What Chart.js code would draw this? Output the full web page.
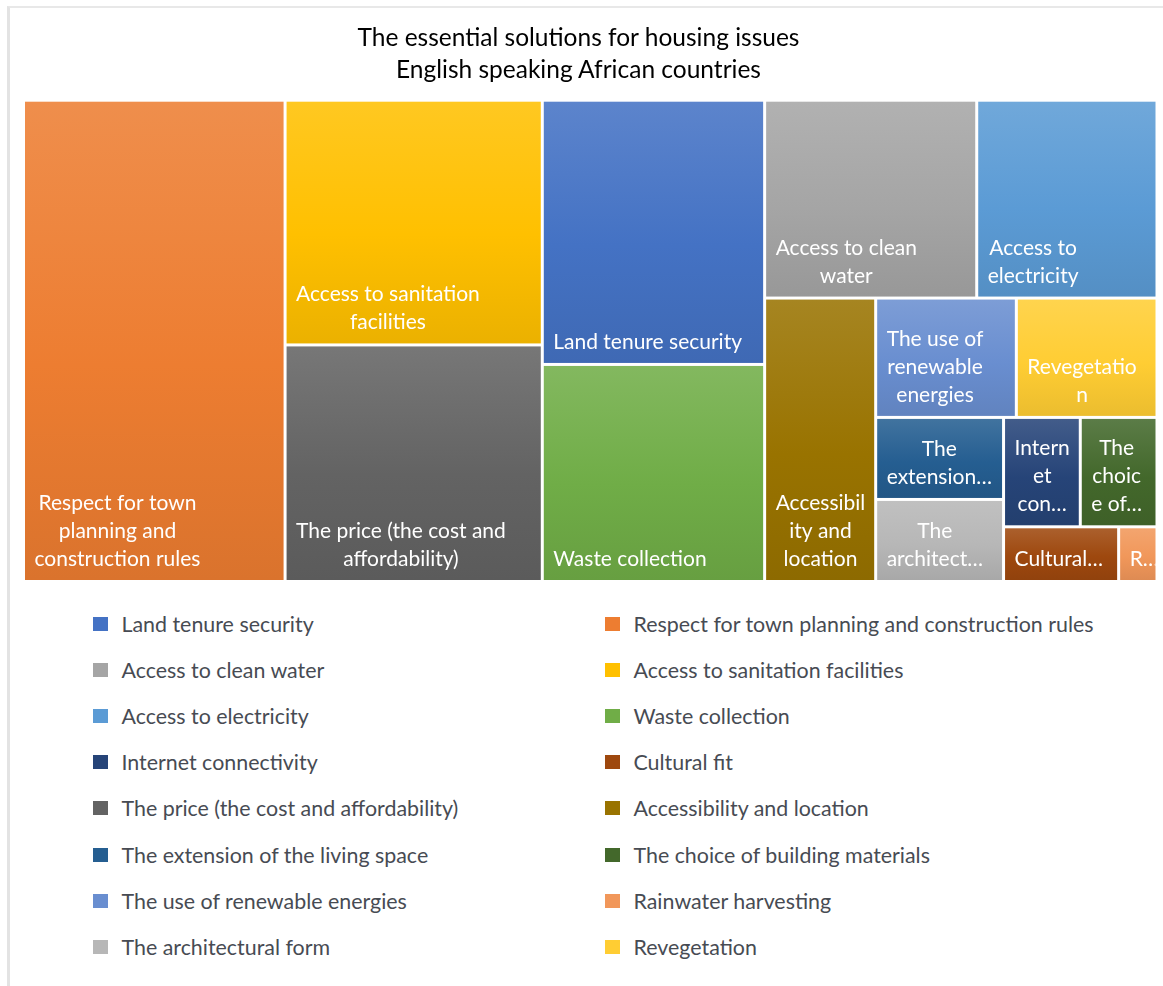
<!DOCTYPE html>
<html>
<head>
<meta charset="utf-8">
<title>The essential solutions for housing issues</title>
<script src="https://cdn.jsdelivr.net/npm/chart.js@4.4.1/dist/chart.umd.min.js"></script>
<style>
  html, body { margin: 0; padding: 0; background: #ffffff; }
  #wrap { position: relative; width: 1163px; height: 986px; overflow: hidden; font-family: Lato, "Open Sans", sans-serif; }
  #frame { position: absolute; left: 7px; top: 6px; width: 1300px; height: 1100px;
           border-left: 3px solid #e3e3e3; border-top: 2px solid #e8e8e8; }
  #title { position: absolute; left: 0; top: 20.6px; width: 1157px; text-align: center;
           font-size: 24.5px; line-height: 32.6px; color: #000000; }
  #chart { position: absolute; left: 0; top: 0; }
  .lg { position: absolute; height: 24px; display: flex; align-items: center; white-space: nowrap;
        font-size: 21.4px; color: #474b53; }
  .lg i { display: inline-block; width: 15px; height: 14px; margin-right: 13.5px; }
</style>
</head>
<body>
<div id="wrap">
  <div id="frame"></div>
  <canvas id="chart" width="1163" height="600"></canvas>
  <div id="title"></div>
  <div id="legend"></div>
</div>
<script>
// Survey answers: number of mentions for each solution
const labels = [
  'Land tenure security',
  'Respect for town planning and construction rules',
  'Access to clean water',
  'Access to sanitation facilities',
  'Access to electricity',
  'Waste collection',
  'Internet connectivity',
  'Cultural fit',
  'The price (the cost and affordability)',
  'Accessibility and location',
  'The extension of the living space',
  'The choice of building materials',
  'The use of renewable energies',
  'Rainwater harvesting',
  'The architectural form',
  'Revegetation'
];
const values = [28, 60, 20, 30, 17, 23, 4, 3, 29, 15, 5, 4, 8, 1, 5, 8];
const colors = [
  '#4472C4', '#ED7D31', '#A5A5A5', '#FFC000', '#5B9BD5', '#70AD47', '#264478', '#9E480E',
  '#636363', '#997300', '#255E91', '#43682B', '#698ED0', '#F1975A', '#B7B7B7', '#FFCD33'
];
const titleLines = ['The essential solutions for housing issues', 'English speaking African countries'];

function mix(hex, target, t) {
  const a = parseInt(hex.slice(1), 16), b = parseInt(target.slice(1), 16);
  const ch = (v, s) => (v >> s) & 255;
  const m = s => Math.round(ch(a, s) + (ch(b, s) - ch(a, s)) * t);
  return `rgb(${m(16)},${m(8)},${m(0)})`;
}

// Squarified layout; runs of equal values are always kept in the same strip.
function squarify(vals, W, H) {
  const total = vals.reduce((s, v) => s + v, 0);
  const items = vals.map((v, i) => ({ i, v, area: v / total * W * H }))
    .sort((p, q) => q.v - p.v || p.i - q.i);
  const worst = (row, side) => {
    const sum = row.reduce((s, it) => s + it.area, 0);
    const thick = sum / side;
    let w = 0;
    for (const it of row) {
      const len = it.area / thick;
      w = Math.max(w, len / thick, thick / len);
    }
    return w;
  };
  const group = (list, k) => {
    const g = [list[k]];
    while (k + g.length < list.length && list[k + g.length].v === list[k].v) g.push(list[k + g.length]);
    return g;
  };
  const out = [];
  let r = { x: 0, y: 0, w: W, h: H };
  let rest = items;
  while (rest.length) {
    const column = r.w >= r.h;
    const side = column ? r.h : r.w;
    let row = group(rest, 0);
    let best = worst(row, side);
    while (row.length < rest.length) {
      const cand = row.concat(group(rest, row.length));
      const wv = worst(cand, side);
      if (wv > best) break;
      row = cand; best = wv;
    }
    const thick = row.reduce((s, it) => s + it.area, 0) / side;
    let off = 0;
    for (const it of row) {
      const len = it.area / thick;
      out[it.i] = column ? { x: r.x, y: r.y + off, w: thick, h: len }
                         : { x: r.x + off, y: r.y, w: len, h: thick };
      off += len;
    }
    r = column ? { x: r.x + thick, y: r.y, w: r.w - thick, h: r.h }
               : { x: r.x, y: r.y + thick, w: r.w, h: r.h - thick };
    rest = rest.slice(row.length);
  }
  return out;
}

function wrapText(ctx, text, maxW) {
  const lines = [];
  let cur = '';
  for (const word of text.split(' ')) {
    const trial = cur ? cur + ' ' + word : word;
    if (ctx.measureText(trial).width <= maxW) { cur = trial; continue; }
    if (cur) lines.push(cur);
    let w = word;
    while (w.length > 1 && ctx.measureText(w).width > maxW) {
      let n = w.length - 1;
      while (n > 1 && ctx.measureText(w.slice(0, n)).width > maxW) n--;
      lines.push(w.slice(0, n));
      w = w.slice(n);
    }
    cur = w;
  }
  if (cur) lines.push(cur);
  return lines;
}

class TileElement extends Chart.Element {
  inRange(mx, my) { return mx >= this.x && mx <= this.x + this.width && my >= this.y && my <= this.y + this.height; }
  inXRange(mx) { return mx >= this.x && mx <= this.x + this.width; }
  inYRange(my) { return my >= this.y && my <= this.y + this.height; }
  getCenterPoint() { return { x: this.x + this.width / 2, y: this.y + this.height / 2 }; }
  draw(ctx) {
    const s = this.style;
    const g = s.spacing / 2;
    const L = this.x + g, T = this.y + g, W = this.width - 2 * g, H = this.height - 2 * g;
    if (W <= 0 || H <= 0) return;
    ctx.save();
    const grad = ctx.createLinearGradient(0, T, 0, T + H);
    grad.addColorStop(0, mix(this.color, '#ffffff', 0.13));
    grad.addColorStop(0.55, this.color);
    grad.addColorStop(1, mix(this.color, '#000000', 0.08));
    ctx.fillStyle = grad;
    ctx.fillRect(L, T, W, H);

    // label: wrapped, bottom anchored, lines centred in a left-anchored block
    ctx.font = s.font;
    ctx.fillStyle = s.labelColor;
    ctx.textBaseline = 'alphabetic';
    ctx.textAlign = 'center';
    const avail = W * s.wrapRatio - s.wrapInset;
    let lines = wrapText(ctx, this.label, avail);
    const maxLines = Math.max(1, Math.floor((H - 6) / s.lineHeight));
    if (lines.length > maxLines) {
      lines = lines.slice(0, maxLines);
      let last = lines[maxLines - 1];
      while (last.length > 1 && ctx.measureText(last + '…').width > avail) last = last.slice(0, -1);
      lines[maxLines - 1] = last + '…';
    }
    const blockW = Math.max(...lines.map(t => ctx.measureText(t).width));
    const cx = L + s.padX + blockW / 2;
    const n = lines.length;
    ctx.beginPath();
    ctx.rect(L, T, W, H);
    ctx.clip();
    lines.forEach((t, k) => {
      ctx.fillText(t, cx, T + H - s.bottomGap - (n - 1 - k) * s.lineHeight);
    });
    ctx.restore();
  }
}
TileElement.id = 'tile';
TileElement.defaults = {};

class TreemapController extends Chart.DatasetController {
  parse(start, count) {
    const data = this.getDataset().data;
    const parsed = this._cachedMeta._parsed;
    for (let i = start; i < start + count; i++) parsed[i] = { x: i, y: +data[i] };
  }
  update(mode) {
    const meta = this._cachedMeta;
    this.updateElements(meta.data, 0, meta.data.length, mode);
  }
  updateElements(elements, start, count) {
    const meta = this._cachedMeta;
    const xs = meta.xScale, ys = meta.yScale;
    const ds = this.getDataset();
    const x0 = xs.min, x1 = xs.max, y0 = ys.min, y1 = ys.max;
    const pw = Math.abs(xs.getPixelForValue(x1) - xs.getPixelForValue(x0));
    const ph = Math.abs(ys.getPixelForValue(y1) - ys.getPixelForValue(y0));
    const cells = squarify(ds.data.map(Number), pw, ph);
    const style = {
      spacing: ds.spacing, font: ds.labelFont, labelColor: ds.labelColor,
      lineHeight: ds.labelLineHeight, padX: ds.labelPadding, bottomGap: ds.labelBottom,
      wrapRatio: 0.94, wrapInset: 10.5
    };
    for (let i = start; i < start + count; i++) {
      const c = cells[i];
      const dl = x0 + c.x / pw * (x1 - x0), dr = x0 + (c.x + c.w) / pw * (x1 - x0);
      const dt = y0 + c.y / ph * (y1 - y0), db = y0 + (c.y + c.h) / ph * (y1 - y0);
      const l = xs.getPixelForValue(dl), r = xs.getPixelForValue(dr);
      const t = ys.getPixelForValue(dt), b = ys.getPixelForValue(db);
      this.updateElement(elements[i], i, {
        x: Math.min(l, r), y: Math.min(t, b), width: Math.abs(r - l), height: Math.abs(b - t),
        color: ds.backgroundColor[i], label: this.chart.data.labels[i], style
      }, 'none');
    }
  }
}
TreemapController.id = 'treemap';
TreemapController.defaults = { dataElementType: 'tile', datasetElementType: false };

Chart.register(TileElement, TreemapController);

new Chart(document.getElementById('chart'), {
  type: 'treemap',
  data: {
    labels: labels,
    datasets: [{
      data: values,
      backgroundColor: colors,
      spacing: 3,
      labelFont: '21px Lato, "Open Sans", sans-serif',
      labelColor: '#ffffff',
      labelLineHeight: 28,
      labelPadding: 9.5,
      labelBottom: 14
    }]
  },
  options: {
    responsive: false,
    maintainAspectRatio: false,
    animation: false,
    events: [],
    layout: { padding: { left: 23.5, right: 6, top: 100.2, bottom: 18.5 } },
    scales: {
      x: { type: 'linear', min: 0, max: 100, display: false },
      y: { type: 'linear', min: 0, max: 100, reverse: true, display: false }
    },
    plugins: {
      legend: { display: false },
      tooltip: { enabled: false },
      colors: { enabled: false }
    }
  }
});

// title and two-column legend
document.getElementById('title').innerHTML = titleLines.map(t => `<div>${t}</div>`).join('');
const legendEl = document.getElementById('legend');
labels.forEach((name, i) => {
  const row = Math.floor(i / 2), col = i % 2;
  const item = document.createElement('div');
  item.className = 'lg';
  item.style.left = (col === 0 ? 93 : 605) + 'px';
  item.style.top = (623.5 + row * 46.2 - 12) + 'px';
  const box = document.createElement('i');
  box.style.background = colors[i];
  item.appendChild(box);
  item.appendChild(document.createTextNode(name));
  legendEl.appendChild(item);
});
</script>
</body>
</html>
